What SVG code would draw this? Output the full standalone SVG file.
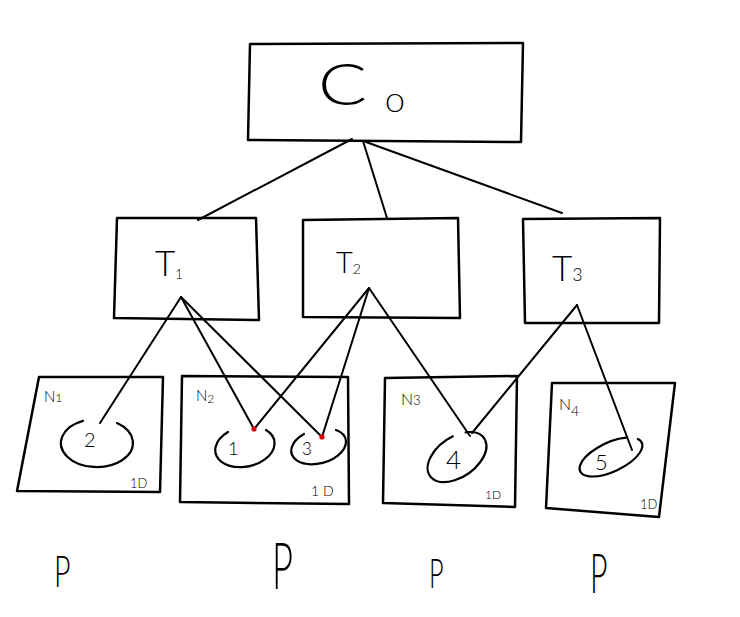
<svg xmlns="http://www.w3.org/2000/svg" width="740" height="617" viewBox="0 0 740 617">
<style>
.box{fill:none;stroke:#000;stroke-width:2.5;stroke-linejoin:round}
.ell{fill:none;stroke:#000;stroke-width:2.2;stroke-linecap:round}
.con line{stroke:#000;stroke-width:2;stroke-linecap:round}
.dot{fill:#e00000}
text{font-family:"Lato","Inter","Liberation Sans",sans-serif;font-weight:300;fill:#000}
</style>
<rect width="740" height="617" fill="#fff"/>
<g id="node-C0">
<polygon class="box" points="250,44 523,43 521,142 248,140"/>
<text transform="translate(318,105) scale(1.25,1)" font-size="58">C<tspan x="54" dy="7" font-size="26">0</tspan></text>
</g>
<g id="node-T1">
<polygon class="box" points="117,218 256,218 259,320 114,318"/>
<text x="155" y="276" font-size="35">T<tspan font-size="13" dy="3">1</tspan></text>
</g>
<g id="node-T2">
<polygon class="box" points="303,220 458,218 460,318 303,317"/>
<text x="336" y="273" font-size="29">T<tspan font-size="14" dy="1">2</tspan></text>
</g>
<g id="node-T3">
<polygon class="box" points="523,219 660,218 659,323 525,323"/>
<text x="552" y="281" font-size="35">T<tspan font-size="18">3</tspan></text>
</g>
<g id="node-N1">
<polygon class="box" points="39,377 163,377 160,492 17,491"/>
<text x="44" y="402" font-size="15">N<tspan font-size="12">1</tspan></text>
<g id="item-2">
<path class="ell" d="M117,423.1 A36,24 0 1 1 83,420.9"/>
<text x="84" y="447" font-size="20">2</text>
</g>
<text x="130" y="488" font-size="13">1D</text>
</g>
<g id="node-N2">
<polygon class="box" points="182,376 348,377 349,504 180,502"/>
<text x="196" y="401" font-size="15">N<tspan font-size="12" dy="2">2</tspan></text>
<g id="item-1">
<path class="ell" d="M266,430 A30,20 -12 1 1 228,432"/>
<text x="228" y="455" font-size="18">1</text>
</g>
<g id="item-3">
<path class="ell" d="M336,430 A28,17 -15 1 1 304,434"/>
<text x="302" y="455" font-size="17">3</text>
</g>
<text x="311" y="496" font-size="14">1 D</text>
</g>
<g id="node-N3">
<polygon class="box" points="385,378 517,376 515,507 383,503"/>
<text x="401" y="405" font-size="16">N<tspan font-size="13">3</tspan></text>
<g id="item-4">
<path class="ell" d="M465.6,432.3 A33,20 -35 1 1 452.9,436.3"/>
<text x="446" y="469" font-size="26">4</text>
</g>
<text x="485" y="499" font-size="12">1D</text>
</g>
<g id="node-N4">
<polygon class="box" points="552,383 675,383 659,517 546,508"/>
<text x="559" y="410" font-size="16">N<tspan font-size="14" dy="6">4</tspan></text>
<g id="item-5">
<path class="ell" d="M637.8,439 A34,14.5 -25 1 1 626.1,437.7"/>
<text x="595" y="470" font-size="22">5</text>
</g>
<text x="640" y="509" font-size="13">1D</text>
</g>
<g id="connectors" class="con">
<line x1="352" y1="139" x2="198" y2="220"/>
<line x1="363" y1="141" x2="387" y2="218"/>
<line x1="366" y1="142" x2="562" y2="213"/>
<line x1="181" y1="297" x2="100" y2="423"/>
<line x1="181" y1="297" x2="254" y2="429"/>
<line x1="181" y1="297" x2="322" y2="437"/>
<line x1="369" y1="288" x2="254" y2="429"/>
<line x1="369" y1="288" x2="322" y2="437"/>
<line x1="369" y1="288" x2="470" y2="436"/>
<line x1="577" y1="305" x2="472" y2="433"/>
<line x1="577" y1="305" x2="632" y2="450"/>
<circle class="dot" cx="254" cy="429" r="2.6"/>
<circle class="dot" cx="322" cy="437" r="2.6"/>
</g>
<g id="labels-P">
<text transform="translate(54,587) scale(0.65,1)" font-size="44">P</text>
<text transform="translate(272,589) scale(0.55,1)" font-size="66">P</text>
<text transform="translate(429,588) scale(0.6,1)" font-size="42">P</text>
<text transform="translate(590,593) scale(0.55,1)" font-size="55">P</text>
</g>
</svg>
